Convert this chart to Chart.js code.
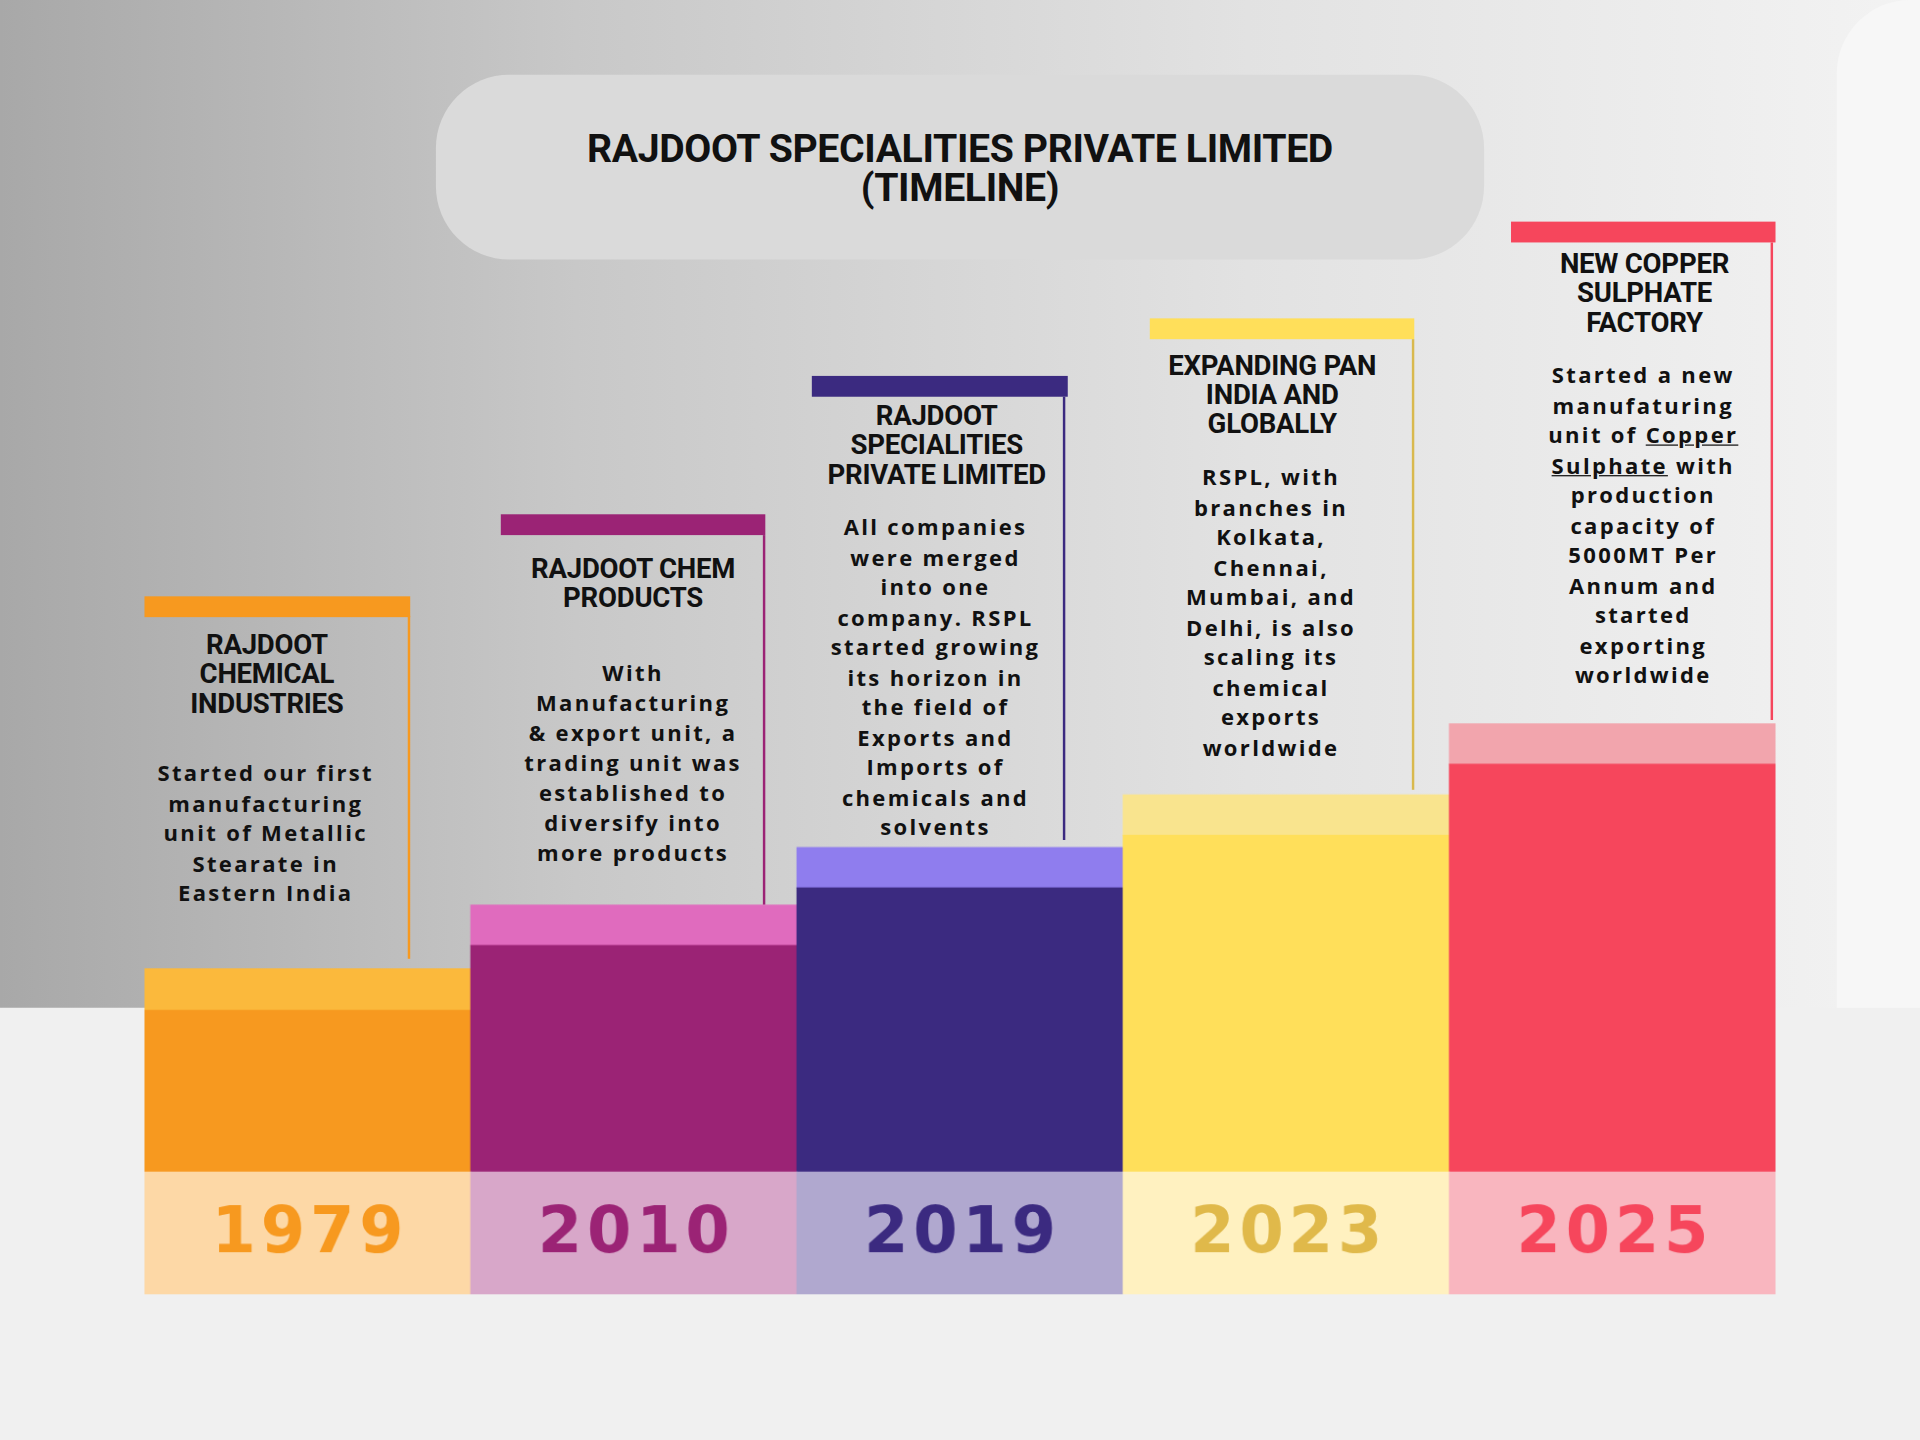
<!DOCTYPE html>
<html><head><meta charset="utf-8">
<script src="https://cdn.jsdelivr.net/npm/chart.js@4.4.0/dist/chart.umd.min.js"></script>
<style>
html,body{margin:0;padding:0;width:1920px;height:1440px;overflow:hidden;background:#f0f0f0}
#stage{position:absolute;left:0;top:0;width:1568px;height:1176px;transform:scale(1.22449);transform-origin:0 0;background:#f0f0f0;font-family:"Open Sans",sans-serif}
#bg{position:absolute;left:0;top:0;width:1568px;height:823px;background:linear-gradient(90deg,#a8a8a8 0%,#c8c8c8 30%,#e2e2e2 65%,#f3f3f3 100%)}
#rshape{position:absolute;left:1500px;top:0;width:68px;height:823px;background:#f7f7f7;border-top-left-radius:60px}
#pill{position:absolute;left:356px;top:61px;width:856px;height:151px;border-radius:60px;background:#dadada;display:flex;align-items:center;justify-content:center;text-align:center;font-family:Roboto,sans-serif;font-weight:700;font-size:32px;line-height:32px;color:#111;letter-spacing:-0.3px}
.card{position:absolute;text-align:center;color:#111;white-space:nowrap}
.bar{position:absolute;height:17px}
.vl{position:absolute;width:2px}
.h{font-family:Roboto,sans-serif;font-weight:700;font-size:22.5px;line-height:24px;letter-spacing:-0.2px}
.b{font-weight:700;font-size:18px;line-height:24.5px;letter-spacing:1.9px}
#cv{position:absolute;left:118px;top:0}
</style></head><body>
<div id="stage">
<div id="bg"></div><div id="rshape"></div>
<div id="pill"><div>RAJDOOT SPECIALITIES PRIVATE LIMITED<br>(TIMELINE)</div></div>

<div class="bar" style="left:118px;top:487px;width:217px;background:#f7991f"></div>
<div class="vl" style="left:333px;top:503px;height:280px;background:#f7991f"></div>
<div class="card" style="left:118px;top:514px;width:200px"><div class="h">RAJDOOT<br>CHEMICAL<br>INDUSTRIES</div></div>
<div class="card" style="left:108px;top:619px;width:218px"><div class="b">Started our first<br>manufacturing<br>unit of Metallic<br>Stearate in<br>Eastern India</div></div>

<div class="bar" style="left:409px;top:420px;width:216px;background:#9b2375"></div>
<div class="vl" style="left:623px;top:437px;height:302px;background:#9b2375"></div>
<div class="card" style="left:409px;top:452px;width:216px"><div class="h">RAJDOOT CHEM<br>PRODUCTS</div></div>
<div class="card" style="left:416px;top:537px;width:202px"><div class="b">With<br>Manufacturing<br>&amp; export unit, a<br>trading unit was<br>established to<br>diversify into<br>more products</div></div>

<div class="bar" style="left:663px;top:307px;width:209px;background:#3b2a80"></div>
<div class="vl" style="left:868px;top:324px;height:362px;background:#3b2a80"></div>
<div class="card" style="left:660px;top:327px;width:210px"><div class="h">RAJDOOT<br>SPECIALITIES<br>PRIVATE LIMITED</div></div>
<div class="card" style="left:664px;top:418px;width:200px"><div class="b">All companies<br>were merged<br>into one<br>company. RSPL<br>started growing<br>its horizon in<br>the field of<br>Exports and<br>Imports of<br>chemicals and<br>solvents</div></div>

<div class="bar" style="left:939px;top:260px;width:216px;background:#ffdf5a"></div>
<div class="vl" style="left:1153px;top:277px;height:368px;background:#d9b94e"></div>
<div class="card" style="left:934px;top:286px;width:210px"><div class="h">EXPANDING PAN<br>INDIA AND<br>GLOBALLY</div></div>
<div class="card" style="left:948px;top:377px;width:180px"><div class="b">RSPL, with<br>branches in<br>Kolkata,<br>Chennai,<br>Mumbai, and<br>Delhi, is also<br>scaling its<br>chemical<br>exports<br>worldwide</div></div>

<div class="bar" style="left:1234px;top:181px;width:216px;background:#f6465c"></div>
<div class="vl" style="left:1446px;top:198px;height:390px;background:#f6465c"></div>
<div class="card" style="left:1238px;top:203px;width:210px"><div class="h">NEW COPPER<br>SULPHATE<br>FACTORY</div></div>
<div class="card" style="left:1250px;top:294px;width:184px"><div class="b">Started a new<br>manufaturing<br>unit of <u>Copper</u><br><u>Sulphate</u> with<br>production<br>capacity of<br>5000MT Per<br>Annum and<br>started<br>exporting<br>worldwide</div></div>

<canvas id="cv" width="1332" height="1057" style="width:1332px;height:1057px"></canvas>
</div>
<script>
const years=["1979","2010","2019","2023","2025"];
const yearBand=[100,100,100,100,100];
const mainHeights=[132,185,232,275,333];
const topBand=[34,33,33,33,33];
const mainColors=["#f7991f","#9b2375","#3b2a80","#ffdf5a","#f6465c"];
const topColors=["#fbb93c","#e06bbe","#8f7dee","#f9e48e","#f2a5ad"];
const bandColors=["#fdd8a6","#d8a7c9","#b0a8cf","#fff1c0","#f9b6bf"];
const textColors=["#f7991f","#9b2375","#3b2a80","#e0b94a","#f6465c"];

const yearLabels={id:"yearLabels",afterDatasetsDraw(c){
  const ctx=c.ctx,x=c.scales.x,y=c.scales.y;
  ctx.save();ctx.font="900 52px 'DejaVu Sans'";ctx.textAlign="center";ctx.textBaseline="middle";
  if('letterSpacing' in ctx) ctx.letterSpacing="4px";
  years.forEach((t,i)=>{ctx.fillStyle=textColors[i];ctx.fillText(t,x.getPixelForValue(i)+2,y.getPixelForValue(yearBand[i]/2)+2);});
  ctx.restore();}};

new Chart(document.getElementById("cv"),{
  type:"bar",
  data:{labels:years,datasets:[
    {data:yearBand,backgroundColor:bandColors},
    {data:mainHeights,backgroundColor:mainColors},
    {data:topBand,backgroundColor:topColors}]},
  options:{responsive:false,animation:false,devicePixelRatio:1.25,
    layout:{padding:0},
    plugins:{legend:{display:false},tooltip:{enabled:false}},
    datasets:{bar:{categoryPercentage:1,barPercentage:1,borderWidth:0}},
    scales:{x:{stacked:true,display:false},y:{stacked:true,display:false,min:0,max:1057}}},
  plugins:[yearLabels]});
</script>
</body></html>
